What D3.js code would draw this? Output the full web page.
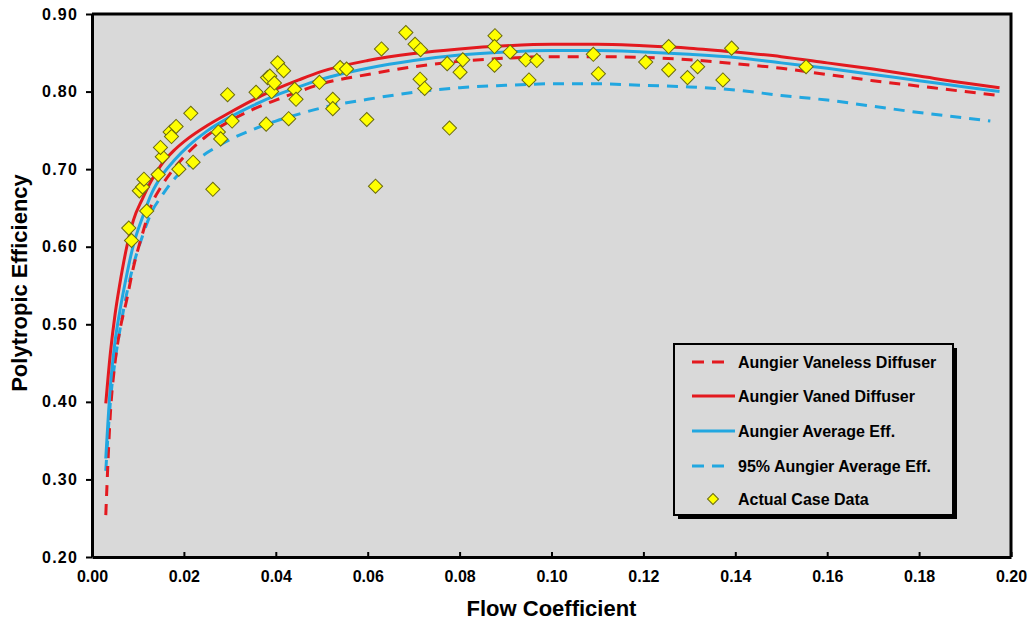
<!DOCTYPE html>
<html>
<head>
<meta charset="utf-8">
<script src="https://cdn.jsdelivr.net/npm/d3@7"></script>
<style>
  body { margin: 0; background: #fff; }
  svg { display: block; }
  text { font-family: "Liberation Sans", Arial, sans-serif; font-weight: bold; fill: #000; }
</style>
</head>
<body>
<svg id="chart" width="1030" height="622"></svg>
<script>
// Flow coefficient grid used by the correlation curves
const flowGrid = [0.003, 0.004, 0.005, 0.006, 0.0075, 0.009, 0.011, 0.013, 0.015, 0.018,
  0.021, 0.025, 0.03, 0.035, 0.04, 0.045, 0.05, 0.06, 0.07, 0.08, 0.09, 0.10, 0.11,
  0.12, 0.13, 0.14, 0.15, 0.16, 0.17, 0.18, 0.19, 0.1975];

// Aungier vaned diffuser efficiency
const vanedEff = [0.398, 0.463, 0.512, 0.550, 0.598, 0.634, 0.662, 0.686, 0.705, 0.725,
  0.740, 0.756, 0.773, 0.789, 0.803, 0.815, 0.826, 0.840, 0.849, 0.855, 0.859, 0.861, 0.861,
  0.859, 0.856, 0.851, 0.845, 0.837, 0.829, 0.820, 0.811, 0.805];

// Aungier vaneless diffuser efficiency
const vanelessEff = [0.254, 0.385, 0.450, 0.490, 0.530, 0.573, 0.617, 0.655, 0.677, 0.702,
  0.722, 0.743, 0.762, 0.777, 0.789, 0.800, 0.810, 0.822, 0.832, 0.839, 0.843, 0.845, 0.845,
  0.844, 0.841, 0.836, 0.830, 0.822, 0.814, 0.807, 0.800, 0.795];

// Aungier average efficiency
const averageEff = [0.327, 0.420, 0.477, 0.515, 0.562, 0.602, 0.638, 0.669, 0.690, 0.712,
  0.730, 0.749, 0.767, 0.782, 0.795, 0.806, 0.816, 0.830, 0.840, 0.847, 0.851, 0.853, 0.853,
  0.851, 0.848, 0.844, 0.837, 0.830, 0.822, 0.814, 0.806, 0.800];

// 95% of the Aungier average efficiency
const flowGrid95 = [0.003, 0.004, 0.005, 0.006, 0.0075, 0.009, 0.011, 0.013, 0.015, 0.018,
  0.021, 0.025, 0.03, 0.035, 0.04, 0.045, 0.05, 0.06, 0.07, 0.08, 0.09, 0.10, 0.11,
  0.12, 0.13, 0.14, 0.15, 0.16, 0.17, 0.18, 0.19, 0.1955];
const average95Eff = [0.311, 0.400, 0.452, 0.490, 0.538, 0.576, 0.614, 0.645, 0.664, 0.688,
  0.704, 0.721, 0.738, 0.751, 0.762, 0.771, 0.779, 0.790, 0.799, 0.805, 0.808, 0.810, 0.810,
  0.808, 0.806, 0.802, 0.795, 0.789, 0.781, 0.773, 0.766, 0.762];

// Actual case data
const caseFlow = [0.0080, 0.0086, 0.0119, 0.0103, 0.0110, 0.0113, 0.0144, 0.0153, 0.0149, 0.0170,
  0.0173, 0.0183, 0.0189, 0.0215, 0.0220, 0.0263, 0.0275, 0.0280, 0.0295, 0.0305,
  0.0357, 0.0379, 0.0382, 0.0387, 0.0391, 0.0397, 0.0404, 0.0417, 0.0428, 0.0441,
  0.0444, 0.0495, 0.0524, 0.0524, 0.0540, 0.0554, 0.0598, 0.0617, 0.0630, 0.0683,
  0.0703, 0.0715, 0.0714, 0.0724, 0.0773, 0.0778, 0.0801, 0.0807, 0.0877, 0.0876,
  0.0876, 0.0910, 0.0944, 0.0951, 0.0968, 0.1091, 0.1102, 0.1205, 0.1255, 0.1255,
  0.1296, 0.1318, 0.1373, 0.1392, 0.1554];
const caseEff = [0.624, 0.608, 0.646, 0.672, 0.677, 0.687, 0.693, 0.716, 0.728, 0.748,
  0.742, 0.755, 0.700, 0.772, 0.709, 0.674, 0.748, 0.739, 0.796, 0.762,
  0.799, 0.758, 0.818, 0.820, 0.800, 0.811, 0.837, 0.827, 0.765, 0.803,
  0.790, 0.812, 0.790, 0.778, 0.831, 0.829, 0.764, 0.678, 0.855, 0.876,
  0.861, 0.854, 0.816, 0.804, 0.836, 0.753, 0.825, 0.841, 0.872, 0.858,
  0.834, 0.851, 0.841, 0.815, 0.840, 0.848, 0.823, 0.838, 0.858, 0.828,
  0.818, 0.832, 0.815, 0.856, 0.832];

const xTicks = [0, 0.02, 0.04, 0.06, 0.08, 0.10, 0.12, 0.14, 0.16, 0.18, 0.20];
const yTicks = [0.2, 0.3, 0.4, 0.5, 0.6, 0.7, 0.8, 0.9];

const RED = "#e3191f";
const BLUE = "#22a7e0";
const PLOT_BG = "#d9d9d9";

const svg = d3.select("#chart");
const plotLeft = 92, plotRight = 1011, plotTop = 14, plotBottom = 557;

const x = d3.scaleLinear().domain([0, 0.2]).range([plotLeft, plotRight]);
const y = d3.scaleLinear().domain([0.2, 0.9]).range([plotBottom, plotTop]);

// plot area
svg.append("rect")
  .attr("x", plotLeft).attr("y", plotTop)
  .attr("width", plotRight - plotLeft).attr("height", plotBottom - plotTop)
  .attr("fill", PLOT_BG);

const series = [
  { name: "Aungier Vaneless Diffuser", xs: flowGrid, ys: vanelessEff, color: RED, dash: "11,8" },
  { name: "Aungier Vaned Diffuser", xs: flowGrid, ys: vanedEff, color: RED, dash: null },
  { name: "Aungier Average Eff.", xs: flowGrid, ys: averageEff, color: BLUE, dash: null },
  { name: "95% Aungier Average Eff.", xs: flowGrid95, ys: average95Eff, color: BLUE, dash: "11,8" }
];

const line = d3.line()
  .x(d => x(d[0]))
  .y(d => y(d[1]))
  .curve(d3.curveMonotoneX);

// draw order: dashed curves under solid ones
[series[3], series[0], series[2], series[1]].forEach(s => {
  svg.append("path")
    .datum(s.xs.map((v, i) => [v, s.ys[i]]))
    .attr("d", line)
    .attr("fill", "none")
    .attr("stroke", s.color)
    .attr("stroke-width", 3)
    .attr("stroke-dasharray", s.dash);
});

// case data diamonds
const diamond = d3.symbol(d3.symbolSquare, 100);
svg.append("g").selectAll("path")
  .data(caseFlow.map((v, i) => [v, caseEff[i]]))
  .join("path")
  .attr("d", diamond)
  .attr("transform", d => `translate(${x(d[0])},${y(d[1])}) rotate(45)`)
  .attr("fill", "#ffff00")
  .attr("stroke", "#6b6b10")
  .attr("stroke-width", 1);

// frame top and right
svg.append("path")
  .attr("d", `M${plotLeft},${plotTop}H${plotRight}V${plotBottom}`)
  .attr("fill", "none").attr("stroke", "#000").attr("stroke-width", 3);

// axes
const yAxis = svg.append("g")
  .attr("transform", `translate(${plotLeft},0)`)
  .call(d3.axisLeft(y).tickValues(yTicks).tickFormat(d3.format(".2f"))
    .tickSizeInner(6).tickSizeOuter(0).tickPadding(8));
const xAxis = svg.append("g")
  .attr("transform", `translate(0,${plotBottom})`)
  .call(d3.axisBottom(x).tickValues(xTicks).tickFormat(d3.format(".2f"))
    .tickSizeInner(-5).tickSizeOuter(0).tickPadding(14));

[yAxis, xAxis].forEach(g => {
  g.select(".domain").attr("stroke", "#000").attr("stroke-width", 3);
  g.selectAll(".tick line").attr("stroke", "#000").attr("stroke-width", 2);
  g.selectAll(".tick text")
    .attr("font-family", "Liberation Sans, Arial, sans-serif")
    .attr("font-weight", "bold")
    .attr("font-size", 16)
    .attr("fill", "#000");
});
yAxis.selectAll(".tick text").attr("letter-spacing", "1.2px");
xAxis.selectAll(".tick text").attr("dy", "0.71em").attr("y", 14);

// axis titles
svg.append("text")
  .attr("x", (plotLeft + plotRight) / 2).attr("y", 616)
  .attr("text-anchor", "middle")
  .attr("font-size", 22)
  .text("Flow Coefficient");
svg.append("text")
  .attr("transform", `translate(27,${(173 + 393) / 2}) rotate(-90)`)
  .attr("text-anchor", "middle")
  .attr("font-size", 22)
  .text("Polytropic Efficiency");

// legend
const lg = svg.append("g");
const lx = 674, ly = 344, lw = 279, lh = 171;
lg.append("rect").attr("x", lx + 4).attr("y", ly + 4).attr("width", lw).attr("height", lh).attr("fill", "#000");
lg.append("rect").attr("x", lx).attr("y", ly).attr("width", lw).attr("height", lh)
  .attr("fill", PLOT_BG).attr("stroke", "#000").attr("stroke-width", 2);

const rowY = [362, 396, 431, 466, 499];
series.forEach((s, i) => {
  lg.append("line")
    .attr("x1", 692).attr("x2", s.dash ? 724 : 735)
    .attr("y1", rowY[i]).attr("y2", rowY[i])
    .attr("stroke", s.color).attr("stroke-width", 3)
    .attr("stroke-dasharray", s.dash ? "12,8" : null);
  lg.append("text")
    .attr("x", 738).attr("y", rowY[i]).attr("dy", "0.35em")
    .attr("font-size", 16)
    .text(s.name);
});
lg.append("path")
  .attr("d", d3.symbol(d3.symbolSquare, 60)())
  .attr("transform", `translate(713,${rowY[4]}) rotate(45)`)
  .attr("fill", "#ffff00").attr("stroke", "#6b6b10").attr("stroke-width", 1);
lg.append("text")
  .attr("x", 738).attr("y", rowY[4]).attr("dy", "0.35em")
  .attr("font-size", 16)
  .text("Actual Case Data");
</script>
</body>
</html>
